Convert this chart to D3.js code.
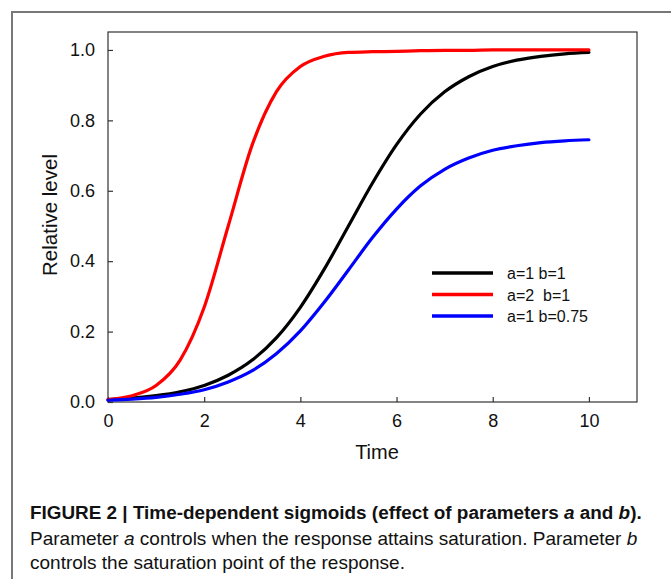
<!DOCTYPE html>
<html>
<head>
<meta charset="utf-8">
<script src="https://cdnjs.cloudflare.com/ajax/libs/d3/7.8.5/d3.min.js"></script>
<style>
  body { margin: 0; background: #fff; }
  text { font-family: "Liberation Sans", Arial, sans-serif; fill: #111; }
</style>
</head>
<body>
<script>
// values, every half time unit
var times = [0, 0.5, 1, 1.5, 2, 2.5, 3, 3.5, 4, 4.5, 5, 5.5, 6, 6.5, 7, 7.5, 8, 8.5, 9, 9.5, 10];
var blackVals = [0.007, 0.011, 0.018, 0.029, 0.047, 0.076, 0.119, 0.182, 0.269, 0.378, 0.5, 0.622, 0.731, 0.818, 0.881, 0.924, 0.953, 0.971, 0.982, 0.989, 0.993];
var redVals = [0.007, 0.018, 0.047, 0.119, 0.269, 0.5, 0.731, 0.881, 0.953, 0.982, 0.993, 0.995, 0.996, 0.998, 0.999, 0.999, 1.0, 1.0, 1.0, 1.0, 1.0];
var blueVals = [0.005, 0.008, 0.013, 0.022, 0.035, 0.057, 0.089, 0.137, 0.202, 0.284, 0.375, 0.467, 0.548, 0.614, 0.661, 0.693, 0.715, 0.728, 0.737, 0.742, 0.745];
var seriesNames = ["a=1 b=1", "a=2  b=1", "a=1 b=0.75"];
var seriesColors = ["#000000", "#ff0000", "#0000ff"];
var xTicks = [0, 2, 4, 6, 8, 10];
var yTicks = [0, 0.2, 0.4, 0.6, 0.8, 1.0];

var W = 671, H = 579;
var margin = {top: 32, right: 34, bottom: 177, left: 108},
    width = W - margin.left - margin.right,
    height = H - margin.top - margin.bottom;

var svg = d3.select("body").append("svg")
    .attr("width", W)
    .attr("height", H);

// grey frame round the figure, cut off on the right and bottom
svg.append("rect")
    .attr("x", 12).attr("y", 12)
    .attr("width", 700).attr("height", 620)
    .attr("fill", "none")
    .attr("stroke", "#777")
    .attr("stroke-width", 2);

var g = svg.append("g")
    .attr("transform", "translate(" + margin.left + "," + margin.top + ")");

var x = d3.scaleLinear().domain([0, 11]).range([0, width]);
var y = d3.scaleLinear().domain([0, 1.051]).range([height, 0]);

var series = [blackVals, redVals, blueVals].map(function(vals, i) {
  return {name: seriesNames[i], color: seriesColors[i],
          values: times.map(function(t, j) { return {t: t, v: vals[j]}; })};
});

var line = d3.line()
    .x(function(d) { return x(d.t); })
    .y(function(d) { return y(d.v); })
    .curve(d3.curveMonotoneX);

// plot box
g.append("rect")
    .attr("width", width).attr("height", height)
    .attr("fill", "#fff")
    .attr("stroke", "#333")
    .attr("stroke-width", 1.2);

// axes, ticks pointing inward
var xAxis = g.append("g")
    .attr("transform", "translate(0," + height + ")")
    .call(d3.axisBottom(x).tickValues(xTicks).tickSizeInner(-5).tickSizeOuter(0).tickPadding(12));
var yAxis = g.append("g")
    .call(d3.axisLeft(y).tickValues(yTicks).tickSizeInner(-5).tickSizeOuter(0).tickPadding(13)
      .tickFormat(d3.format(".1f")));

[xAxis, yAxis].forEach(function(a) {
  a.select(".domain").remove();
  a.selectAll(".tick line").attr("stroke", "#333").attr("stroke-width", 1.2);
  a.selectAll(".tick text")
      .style("font-family", "'Liberation Sans', Arial, sans-serif")
      .style("font-size", "18px")
      .attr("fill", "#111");
});

g.selectAll(".curve")
    .data(series)
  .enter().append("path")
    .attr("class", "curve")
    .attr("d", function(d) { return line(d.values); })
    .attr("fill", "none")
    .attr("stroke", function(d) { return d.color; })
    .attr("stroke-width", 3.2)
    .attr("stroke-linecap", "round");

// axis titles
svg.append("text")
    .attr("x", 377).attr("y", 459)
    .attr("text-anchor", "middle")
    .style("font-size", "20px")
    .text("Time");

svg.append("text")
    .attr("transform", "translate(57,215) rotate(-90)")
    .attr("text-anchor", "middle")
    .style("font-size", "20.5px")
    .text("Relative level");

// legend
var legend = svg.selectAll(".legend")
    .data(series)
  .enter().append("g")
    .attr("class", "legend")
    .attr("transform", function(d, i) { return "translate(432," + (273 + i * 21.5) + ")"; });

legend.append("line")
    .attr("x1", 0).attr("x2", 61)
    .attr("stroke", function(d) { return d.color; })
    .attr("stroke-width", 3.5);

legend.append("text")
    .attr("x", 75).attr("y", 6)
    .style("font-size", "16px")
    .style("white-space", "pre")
    .text(function(d) { return d.name; });

// caption
var cap = svg.append("g").attr("transform", "translate(30,0)");
var capFont = "'Liberation Sans', Arial, sans-serif";

var t1 = cap.append("text").attr("y", 519)
    .style("font-family", capFont).style("font-size", "18.9px").style("font-weight", "bold");
t1.append("tspan").text("FIGURE 2 | Time-dependent sigmoids (effect of parameters ");
t1.append("tspan").style("font-style", "italic").text("a");
t1.append("tspan").text(" and ");
t1.append("tspan").style("font-style", "italic").text("b");
t1.append("tspan").text(").");

var t2 = cap.append("text").attr("y", 545)
    .style("font-family", capFont).style("font-size", "19px").attr("fill", "#333");
t2.append("tspan").text("Parameter ");
t2.append("tspan").style("font-style", "italic").text("a");
t2.append("tspan").text(" controls when the response attains saturation. Parameter ");
t2.append("tspan").style("font-style", "italic").text("b");

cap.append("text").attr("y", 569)
    .style("font-family", capFont).style("font-size", "19px").attr("fill", "#333")
    .text("controls the saturation point of the response.");
</script>
</body>
</html>
